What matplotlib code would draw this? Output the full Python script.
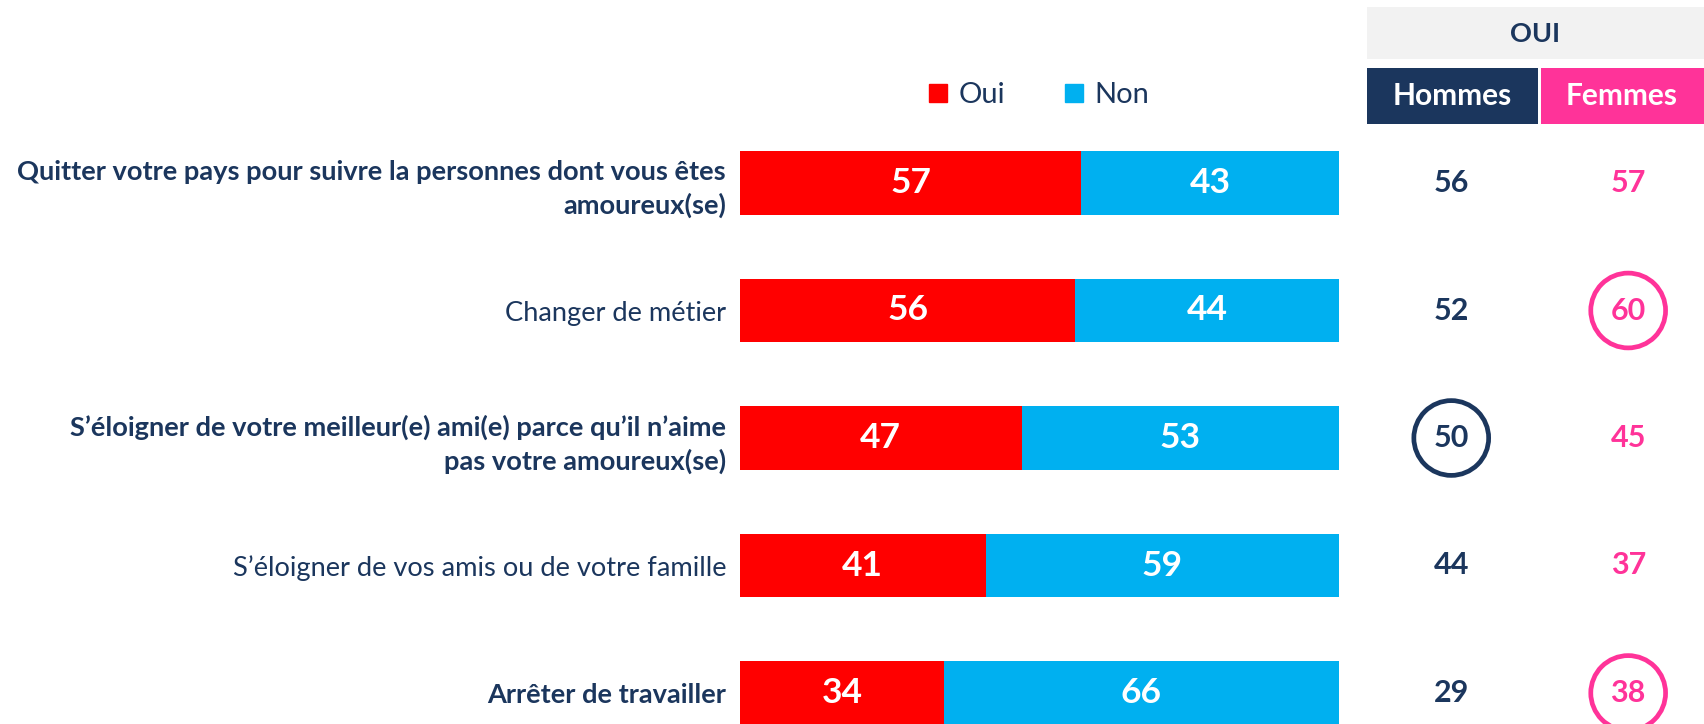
import matplotlib.pyplot as plt
from matplotlib.patches import Rectangle
from matplotlib.lines import Line2D

plt.rcParams['font.family'] = ['Lato', 'DejaVu Sans']

# Survey data
items = [
    "Quitter votre pays pour suivre la personnes dont vous êtes\namoureux(se)",
    "Changer de métier",
    "S’éloigner de votre meilleur(e) ami(e) parce qu’il n’aime\npas votre amoureux(se)",
    "S’éloigner de vos amis ou de votre famille",
    "Arrêter de travailler",
]
bold_items = [True, False, True, False, True]
oui = [57, 56, 47, 41, 34]
non = [43, 44, 53, 59, 66]
hommes = [56, 52, 50, 44, 29]
femmes = [57, 60, 45, 37, 38]
hommes_circled = [False, False, True, False, False]
femmes_circled = [False, True, False, False, True]

RED = '#FF0000'
BLUE = '#00B0F0'
NAVY = '#1B365D'
PINK = '#FF3399'
GREY = '#F2F2F2'

W, H = 1704, 724
fig = plt.figure(figsize=(W / 100, H / 100), dpi=100)

# row layout in pixels (from top)
row0, step = 183, 127.5
ytop = -row0 / step
ybot = (H - row0) / step

# stacked bars
ax = fig.add_axes([740 / W, 0, 599 / W, 1])
y = list(range(len(items)))
ax.barh(y, oui, height=0.5, color=RED)
ax.barh(y, non, left=oui, height=0.5, color=BLUE)
for i in y:
    ax.text(oui[i] / 2, i, str(oui[i]), ha='center', va='center',
            color='white', fontsize=25.5, fontweight='bold')
    ax.text(oui[i] + non[i] / 2, i, str(non[i]), ha='center', va='center',
            color='white', fontsize=25.5, fontweight='bold')
ax.set_xlim(0, 100)
ax.set_ylim(ybot, ytop)
ax.set_yticks(y)
ax.set_yticklabels(items, fontsize=19.6, color=NAVY, linespacing=1.4)
for lab, b in zip(ax.get_yticklabels(), bold_items):
    lab.set_fontweight('bold' if b else 'normal')
ax.tick_params(axis='y', length=0, pad=10)
ax.set_xticks([])
for s in ax.spines.values():
    s.set_visible(False)

# legend
handles = [Line2D([], [], marker='s', ls='none', color=RED, markersize=13.5),
           Line2D([], [], marker='s', ls='none', color=BLUE, markersize=13.5)]
fig.legend(handles, ['Oui', 'Non'], loc='center left',
           bbox_to_anchor=(928 / W, 1 - 95 / H), ncol=2, frameon=False,
           fontsize=21, labelcolor=NAVY, handlelength=0.7, handletextpad=0.35,
           columnspacing=2.0, borderpad=0, borderaxespad=0)

# OUI by gender table
tx = fig.add_axes([1367 / W, 0, (W - 1367) / W, 1])
tx.set_xlim(0, 2)
tx.set_ylim(ybot, ytop)
tx.axis('off')
for i in y:
    tx.text(0.5, i, str(hommes[i]), ha='center', va='center',
            color=NAVY, fontsize=22, fontweight='bold')
    tx.text(1.55, i, str(femmes[i]), ha='center', va='center',
            color=PINK, fontsize=22, fontweight='bold')
hc = [i for i in y if hommes_circled[i]]
fc = [i for i in y if femmes_circled[i]]
tx.scatter([0.5] * len(hc), hc, s=2900, facecolors='none',
           edgecolors=NAVY, linewidths=3.4, clip_on=False)
tx.scatter([1.55] * len(fc), fc, s=2900, facecolors='none',
           edgecolors=PINK, linewidths=3.4, clip_on=False)

# header boxes
hd = fig.add_axes([0, 0, 1, 1], zorder=-1)
hd.set_xlim(0, W)
hd.set_ylim(H, 0)
hd.axis('off')
hd.add_patch(Rectangle((1367, 7), W - 1367, 52, color=GREY, lw=0))
hd.add_patch(Rectangle((1367, 68), 171, 56, color=NAVY, lw=0))
hd.add_patch(Rectangle((1541, 68), W - 1541, 56, color=PINK, lw=0))
hd.text((1367 + W) / 2, 34, 'OUI', ha='center', va='center',
        color=NAVY, fontsize=19.5, fontweight='bold')
hd.text(1452, 96, 'Hommes', ha='center', va='center',
        color='white', fontsize=21.5, fontweight='bold')
hd.text(1622, 96, 'Femmes', ha='center', va='center',
        color='white', fontsize=21.5, fontweight='bold')

fig.savefig('out.png', dpi=100)
